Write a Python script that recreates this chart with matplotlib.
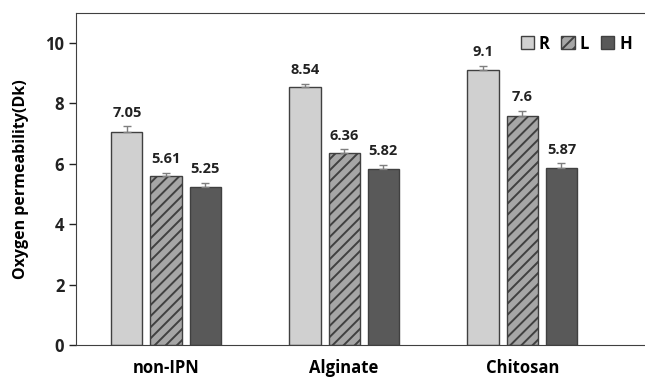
import numpy as np
import matplotlib.pyplot as plt

plt.rcParams['font.family'] = ['Open Sans', 'DejaVu Sans']
plt.rcParams['hatch.linewidth'] = 1.4
plt.rcParams['hatch.color'] = '#303030'

groups = ['non-IPN', 'Alginate', 'Chitosan']
series = ['R', 'L', 'H']
values_R = [7.05, 8.54, 9.1]
values_L = [5.61, 6.36, 7.6]
values_H = [5.25, 5.82, 5.87]
errors_R = [0.2, 0.12, 0.15]
errors_L = [0.1, 0.12, 0.15]
errors_H = [0.12, 0.15, 0.15]
labels_R = ['7.05', '8.54', '9.1']
labels_L = ['5.61', '6.36', '7.6']
labels_H = ['5.25', '5.82', '5.87']

fig = plt.figure(figsize=(6.45, 3.8), dpi=100)
ax = fig.add_axes([0.118, 0.092, 0.885, 0.874])

x = np.arange(len(groups))
width = 0.175
step = 0.22
styles = [
    dict(color='#d0d0d0', hatch=None),
    dict(color='#a6a6a6', hatch='///'),
    dict(color='#595959', hatch=None),
]
all_vals = [values_R, values_L, values_H]
all_errs = [errors_R, errors_L, errors_H]
all_labels = [labels_R, labels_L, labels_H]

for i, name in enumerate(series):
    pos = x + (i - 1) * step
    ax.bar(pos, all_vals[i], width, color=styles[i]['color'], hatch=styles[i]['hatch'],
           edgecolor='#404040', linewidth=1.0, label=name, zorder=2)
    ax.errorbar(pos, all_vals[i], yerr=[np.zeros(len(groups)), all_errs[i]], fmt='none',
                ecolor='#7f7f7f', elinewidth=1.0, capsize=3, capthick=1.0, zorder=3)
    for xp, v, e, t in zip(pos, all_vals[i], all_errs[i], all_labels[i]):
        ax.text(xp, v + e + 0.22, t, ha='center', va='bottom', fontsize=10.5,
                fontweight='bold', color='#222222')

ax.set_xlim(-0.505, 2.7)
ax.set_ylim(0, 11)
ax.set_yticks([0, 2, 4, 6, 8, 10])
ax.set_xticks(x)
ax.set_xticklabels(groups, fontsize=12, fontweight='bold')
ax.tick_params(axis='x', length=0, pad=10)
ax.tick_params(axis='y', length=5, width=1, labelsize=12, colors='#222222')
for lbl in ax.get_yticklabels():
    lbl.set_fontweight('bold')
ax.spines['right'].set_visible(False)
for s in ['left', 'bottom', 'top']:
    ax.spines[s].set_color('#404040')
ax.set_ylabel('Oxygen permeability(Dk)', fontsize=11.5, fontweight='bold', labelpad=12)

ax.legend(loc='upper right', bbox_to_anchor=(1.0, 0.98), ncol=3, frameon=False,
          handlelength=0.8, handleheight=0.8, handletextpad=0.3, columnspacing=0.7,
          prop={'weight': 'bold', 'size': 12})

fig.savefig('out.png', dpi=100)
